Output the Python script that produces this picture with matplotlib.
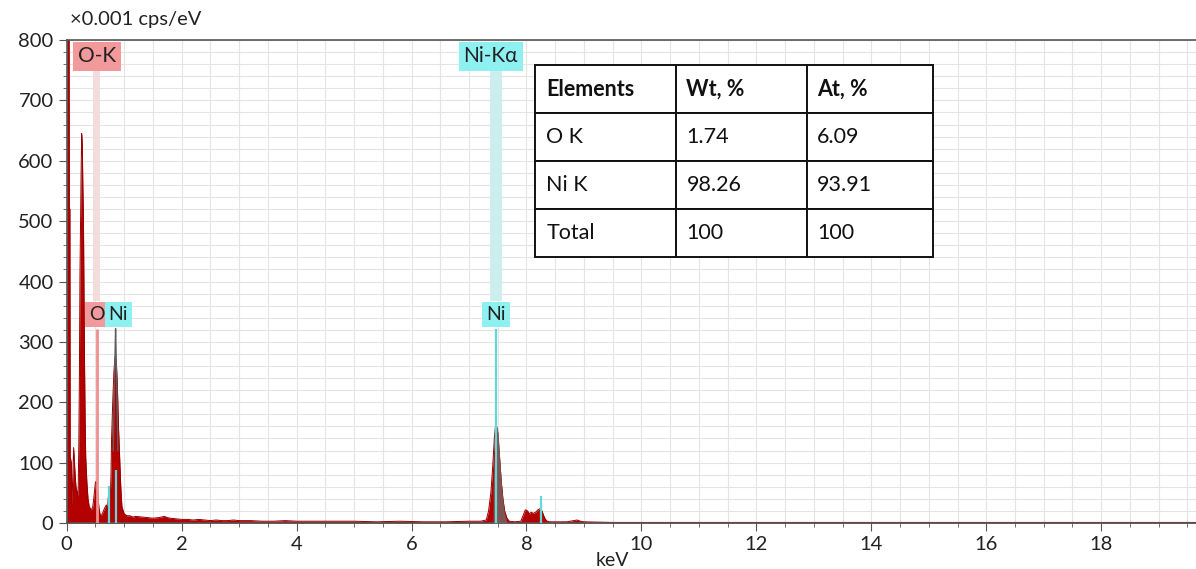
import matplotlib
matplotlib.use("Agg")
import matplotlib.pyplot as plt
from matplotlib.ticker import MultipleLocator

plt.rcParams['font.family'] = ['Lato', 'DejaVu Sans']

# ---------------- data ----------------
energy = [0.000, 0.040, 0.045, 0.055, 0.060, 0.080, 0.090, 0.100, 0.120, 0.140,
          0.160, 0.180, 0.190, 0.200, 0.210, 0.220, 0.230, 0.240, 0.250, 0.260,
          0.270, 0.280, 0.290, 0.300, 0.310, 0.320, 0.330, 0.350, 0.370, 0.390,
          0.420, 0.450, 0.470, 0.480, 0.500, 0.520, 0.540, 0.560, 0.580, 0.600,
          0.630, 0.660, 0.690, 0.710, 0.720, 0.740, 0.760, 0.770, 0.780, 0.800,
          0.820, 0.840, 0.860, 0.880, 0.900, 0.920, 0.940, 0.960, 1.000, 1.050,
          1.100, 1.150, 1.200, 1.300, 1.400, 1.500, 1.600, 1.700, 1.750, 1.800,
          1.900, 2.000, 2.100, 2.200, 2.300, 2.400, 2.500, 2.600, 2.700, 2.800,
          2.900, 3.000, 3.200, 3.400, 3.600, 3.800, 4.000, 4.300, 4.600, 5.000,
          5.400, 5.800, 6.200, 6.600, 7.000, 7.200, 7.300, 7.340, 7.380, 7.410,
          7.440, 7.460, 7.480, 7.500, 7.530, 7.560, 7.590, 7.620, 7.660, 7.700,
          7.800, 7.900, 7.940, 7.980, 8.020, 8.050, 8.080, 8.120, 8.160, 8.200,
          8.240, 8.270, 8.300, 8.330, 8.360, 8.400, 8.500, 8.700, 8.820, 8.880,
          8.940, 9.000, 9.500, 10.00, 11.00, 12.00, 13.00, 14.00, 15.00, 16.00,
          17.00, 18.00, 19.00, 19.65]
counts = [900, 900, 520, 520, 110, 100, 27, 60, 125, 90,
          60, 50, 45, 60, 130, 240, 410, 500, 580, 645,
          630, 560, 510, 380, 260, 170, 110, 68, 40, 28,
          22, 25, 40, 50, 68, 68, 50, 25, 14, 12,
          18, 25, 30, 20, 40, 55, 50, 80, 140, 200,
          250, 275, 270, 230, 160, 110, 60, 27, 15, 12,
          12, 10, 11, 10, 9, 8, 9, 11, 9, 8,
          7, 6, 6, 5, 6, 5, 4, 5, 4, 4,
          5, 4, 4, 3, 3, 4, 3, 3, 3, 3,
          2, 3, 2, 2, 3, 3, 5, 20, 50, 90,
          140, 160, 160, 150, 110, 70, 40, 20, 8, 3,
          2, 3, 12, 22, 20, 15, 18, 16, 18, 22,
          24, 20, 12, 6, 3, 2, 2, 2, 4, 5,
          3, 2, 1, 1, 1, 1, 1, 1, 1, 1,
          1, 1, 1, 1]

# fitted (grey) profiles on the Ni peaks
fitL_energy = [0.81, 0.83, 0.845, 0.85, 0.855, 0.87, 0.89]
fitL_counts = [120, 230, 300, 322, 300, 230, 120]
fitK_energy = [7.42, 7.45, 7.47, 7.49, 7.51, 7.54, 7.57, 7.61, 7.65]
fitK_counts = [60, 130, 158, 160, 145, 100, 55, 20, 5]

# element marker lines (energy, height) and labels
o_energy = 0.525
ni_k_energy = 7.47
cyan_lines_energy = [0.74, 0.85, 7.47, 8.26]
cyan_lines_height = [62, 88, 322, 45]

top_labels = ["O-K", "Ni-Kα"]
top_label_x = [0.525, 7.38]
low_labels = ["O", "Ni", "Ni"]
low_label_x = [0.52, 0.90, 7.47]

table_cols = ["Elements", "Wt, %", "At, %"]
table_rows = [["O K", "1.74", "6.09"],
              ["Ni K", "98.26", "93.91"],
              ["Total", "100", "100"]]

x_max = 19.65
y_max = 800

# ---------------- figure ----------------
fig = plt.figure(figsize=(11.96, 5.69), dpi=100)
ax = fig.add_axes([0.0558, 0.0808, 0.9442, 0.8489])
ax.set_xlim(0, x_max)
ax.set_ylim(0, y_max)

ax.xaxis.set_major_locator(MultipleLocator(2))
ax.xaxis.set_minor_locator(MultipleLocator(0.5))
ax.yaxis.set_major_locator(MultipleLocator(100))
ax.yaxis.set_minor_locator(MultipleLocator(20))
ax.grid(which='both', color='#e4e4e4', lw=0.8)
ax.set_axisbelow(True)

pink = '#f2999b'
pink_band = '#f2dcdc'
cyan = '#8ef0f0'
cyan_band = '#cdeeee'

# bands from top labels down to low labels
ax.fill_between([o_energy - 0.06, o_energy + 0.06], 368, 760, color=pink_band, lw=0, zorder=1)
ax.fill_between([ni_k_energy - 0.11, ni_k_energy + 0.11], 368, 760, color=cyan_band, lw=0, zorder=1)

# spectrum
ax.fill_between(energy, counts, 0, color='#b30000', lw=0, zorder=2)
ax.plot(energy, counts, color='#940000', lw=0.7, zorder=2)

# fit overlays
ax.plot(fitL_energy, fitL_counts, color='#5e5e5e', lw=1.0, zorder=3)
ax.fill_between(fitK_energy, fitK_counts, 0, color='#707070', alpha=0.75, lw=0, zorder=3)

# marker lines
ax.vlines(o_energy, 0, 322, color='#ef8f8f', lw=2, zorder=4)
ax.vlines(cyan_lines_energy, 0, cyan_lines_height, color='#5fd8d8', lw=1.6, zorder=4)

# labels
for txt, x in zip(top_labels, top_label_x):
    col = pink if txt.startswith('O') else cyan
    ax.text(x, 773, txt, ha='center', va='center', fontsize=15, color='#222222',
            bbox=dict(boxstyle='square,pad=0.22', fc=col, ec='none'), zorder=6)
for txt, x in zip(low_labels, low_label_x):
    col = pink if txt == 'O' else cyan
    ax.text(x, 345, txt, ha='center', va='center', fontsize=14, color='#222222',
            bbox=dict(boxstyle='square,pad=0.2', fc=col, ec='none'), zorder=6)

# spines / ticks
for s in ['left', 'bottom', 'top']:
    ax.spines[s].set_color('#555555')
    ax.spines[s].set_linewidth(1.2)
ax.spines['right'].set_visible(False)
ax.tick_params(which='major', length=6, color='#555555', labelsize=14.5, labelcolor='#222222')
ax.tick_params(which='minor', length=3, color='#555555')

fig.text(70 / 1196, 1 - 20 / 569, '×0.001 cps/eV', fontsize=14.5, color='#222222',
         ha='left', va='center')
fig.text(612 / 1196, 1 - 561 / 569, 'keV', fontsize=14, color='#222222',
         ha='center', va='center')

# table
tbl = ax.table(cellText=table_rows, colLabels=table_cols, cellLoc='left', colLoc='left',
               colWidths=[141, 131, 126],
               bbox=[0.4147, 0.5507, 0.3523, 0.397], zorder=7)
tbl.auto_set_font_size(False)
for (r, c), cell in tbl.get_celld().items():
    cell.set_edgecolor('#111111')
    cell.set_linewidth(1.4)
    cell.set_facecolor('white')
    cell.PAD = 0.08
    t = cell.get_text()
    t.set_fontsize(15.5)
    t.set_color('#111111')
    if r == 0:
        t.set_fontweight('bold')

fig.savefig('out.png', dpi=100)
